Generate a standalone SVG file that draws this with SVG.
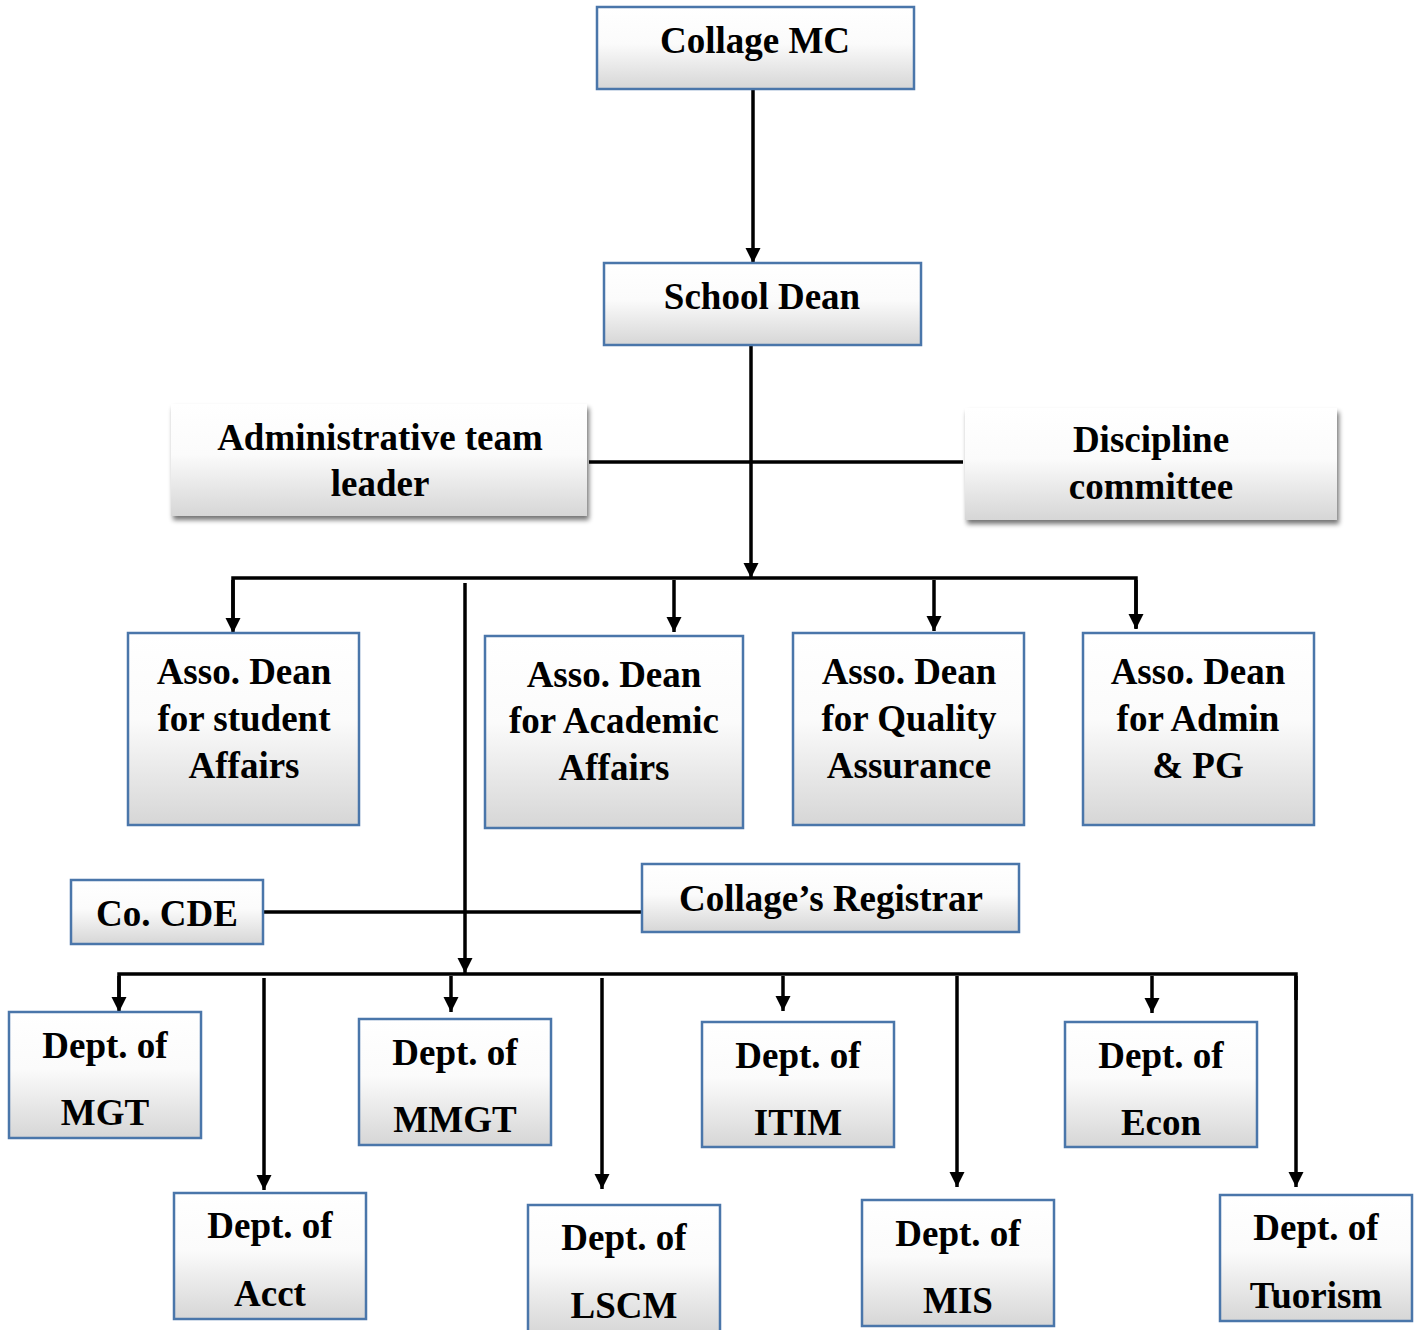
<svg xmlns="http://www.w3.org/2000/svg" width="1418" height="1330" viewBox="0 0 1418 1330">
<style>
  .box { fill: url(#g); stroke: #4a76aa; stroke-width: 2.5; }
  .sbox { fill: url(#g); stroke: none; filter: url(#sh); }
  .t { font-family: "Liberation Serif", "Times New Roman", serif; font-weight: bold; font-size: 37px; fill: #000; text-anchor: middle; }
  .c { stroke: #000; stroke-width: 3.5; fill: none; }
  .a { marker-end: url(#arr); }
</style>
<defs>
  <linearGradient id="g" x1="0" y1="0" x2="0" y2="1">
    <stop offset="0" stop-color="#ffffff"/>
    <stop offset="0.45" stop-color="#fbfbfb"/>
    <stop offset="1" stop-color="#d6d6d6"/>
  </linearGradient>
  <filter id="sh" x="-5%" y="-10%" width="115%" height="130%">
    <feGaussianBlur in="SourceAlpha" stdDeviation="2.5"/>
    <feOffset dx="2" dy="4" result="b"/>
    <feComponentTransfer><feFuncA type="linear" slope="0.55"/></feComponentTransfer>
    <feMerge><feMergeNode/><feMergeNode in="SourceGraphic"/></feMerge>
  </filter>
  <marker id="arr" markerUnits="userSpaceOnUse" markerWidth="17" markerHeight="17" refX="15" refY="8.5" orient="auto">
    <path d="M0,1 L15,8.5 L0,16 z" fill="#000"/>
  </marker>
</defs>

<g id="connectors">
  <line class="c a" x1="753" y1="89" x2="753" y2="263"/>
  <line class="c a" x1="751" y1="345" x2="751" y2="578"/>
  <line class="c" x1="589" y1="462" x2="963" y2="462"/>
  <polyline class="c" points="233,630 233,578 1136,578 1136,628"/>
  <line class="c a" x1="233" y1="580" x2="233" y2="633"/>
  <line class="c a" x1="674" y1="580" x2="674" y2="632"/>
  <line class="c a" x1="934" y1="580" x2="934" y2="631"/>
  <line class="c a" x1="1136" y1="580" x2="1136" y2="629"/>
  <line class="c a" x1="465" y1="583" x2="465" y2="973"/>
  <line class="c" x1="263" y1="912" x2="642" y2="912"/>
  <polyline class="c" points="119,1000 119,974 1296,974 1296,1000"/>
  <line class="c a" x1="119" y1="976" x2="119" y2="1012"/>
  <line class="c a" x1="264" y1="978" x2="264" y2="1190"/>
  <line class="c a" x1="451" y1="976" x2="451" y2="1012"/>
  <line class="c a" x1="602" y1="978" x2="602" y2="1189"/>
  <line class="c a" x1="783" y1="976" x2="783" y2="1011"/>
  <line class="c a" x1="957" y1="976" x2="957" y2="1187"/>
  <line class="c a" x1="1152" y1="976" x2="1152" y2="1013"/>
  <line class="c a" x1="1296" y1="976" x2="1296" y2="1187"/>
</g>

<g id="collage-mc">
  <rect class="box" x="597" y="7" width="317" height="82"/>
  <text class="t" x="755" y="53">Collage MC</text>
</g>
<g id="school-dean">
  <rect class="box" x="604" y="263" width="317" height="82"/>
  <text class="t" x="762" y="309">School Dean</text>
</g>
<g id="admin-team-leader">
  <rect class="sbox" x="171" y="404" width="416" height="112"/>
  <text class="t" x="380" y="450">Administrative team</text>
  <text class="t" x="380" y="496">leader</text>
</g>
<g id="discipline-committee">
  <rect class="sbox" x="965" y="408" width="372" height="112"/>
  <text class="t" x="1151" y="452">Discipline</text>
  <text class="t" x="1151" y="499">committee</text>
</g>

<g id="asso-dean-student">
  <rect class="box" x="128" y="633" width="231" height="192"/>
  <text class="t" x="244" y="684">Asso. Dean</text>
  <text class="t" x="244" y="731">for student</text>
  <text class="t" x="244" y="778">Affairs</text>
</g>
<g id="asso-dean-academic">
  <rect class="box" x="485" y="636" width="258" height="192"/>
  <text class="t" x="614" y="687">Asso. Dean</text>
  <text class="t" x="614" y="733">for Academic</text>
  <text class="t" x="614" y="780">Affairs</text>
</g>
<g id="asso-dean-quality">
  <rect class="box" x="793" y="633" width="231" height="192"/>
  <text class="t" x="909" y="684">Asso. Dean</text>
  <text class="t" x="909" y="731">for Quality</text>
  <text class="t" x="909" y="778">Assurance</text>
</g>
<g id="asso-dean-admin">
  <rect class="box" x="1083" y="633" width="231" height="192"/>
  <text class="t" x="1198" y="684">Asso. Dean</text>
  <text class="t" x="1198" y="731">for Admin</text>
  <text class="t" x="1198" y="778">&amp; PG</text>
</g>

<g id="co-cde">
  <rect class="box" x="71" y="880" width="192" height="64"/>
  <text class="t" x="167" y="926">Co. CDE</text>
</g>
<g id="registrar">
  <rect class="box" x="642" y="864" width="377" height="68"/>
  <text class="t" x="831" y="911">Collage’s Registrar</text>
</g>

<g id="dept-mgt">
  <rect class="box" x="9" y="1012" width="192" height="126"/>
  <text class="t" x="105" y="1058">Dept. of</text>
  <text class="t" x="105" y="1125">MGT</text>
</g>
<g id="dept-acct">
  <rect class="box" x="174" y="1193" width="192" height="126"/>
  <text class="t" x="270" y="1238">Dept. of</text>
  <text class="t" x="270" y="1306">Acct</text>
</g>
<g id="dept-mmgt">
  <rect class="box" x="359" y="1019" width="192" height="126"/>
  <text class="t" x="455" y="1065">Dept. of</text>
  <text class="t" x="455" y="1132">MMGT</text>
</g>
<g id="dept-lscm">
  <rect class="box" x="528" y="1205" width="192" height="130"/>
  <text class="t" x="624" y="1250">Dept. of</text>
  <text class="t" x="624" y="1318">LSCM</text>
</g>
<g id="dept-itim">
  <rect class="box" x="702" y="1022" width="192" height="125"/>
  <text class="t" x="798" y="1068">Dept. of</text>
  <text class="t" x="798" y="1135">ITIM</text>
</g>
<g id="dept-mis">
  <rect class="box" x="862" y="1200" width="192" height="126"/>
  <text class="t" x="958" y="1246">Dept. of</text>
  <text class="t" x="958" y="1313">MIS</text>
</g>
<g id="dept-econ">
  <rect class="box" x="1065" y="1022" width="192" height="125"/>
  <text class="t" x="1161" y="1068">Dept. of</text>
  <text class="t" x="1161" y="1135">Econ</text>
</g>
<g id="dept-tourism">
  <rect class="box" x="1220" y="1195" width="192" height="126"/>
  <text class="t" x="1316" y="1240">Dept. of</text>
  <text class="t" x="1316" y="1308">Tuorism</text>
</g>
</svg>
